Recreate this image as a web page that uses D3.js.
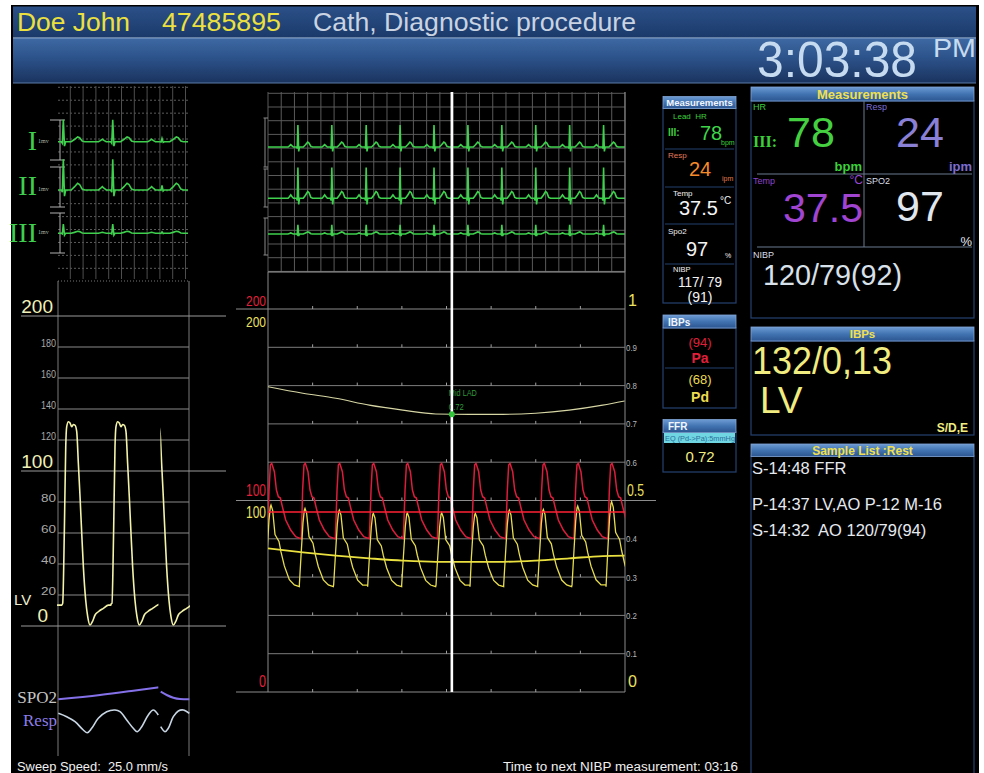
<!DOCTYPE html>
<html><head><meta charset="utf-8">
<script src="https://cdn.jsdelivr.net/npm/d3@7/dist/d3.min.js"></script>
<style>html,body{margin:0;padding:0;background:#fff;}svg{display:block;}text{white-space:pre;}</style>
</head><body>
<script>
// ================= DATA =================
const patientName = "Doe John";
const patientId = "47485895";
const procedureName = "Cath, Diagnostic procedure";
const clockTime = "3:03:38";
const clockSuffix = "PM";

const leadNames = ["I", "II", "III"];
const leadGainMv = [1.0, 1.4, 0.42];
// one ECG complex: [seconds from R peak, mV]
const ecgBeatShape = [[-0.22,0],[-0.19,0.05],[-0.16,0.11],[-0.13,0.05],[-0.10,0],[-0.03,0],[-0.015,-0.07],[0,1],[0.018,-0.2],[0.035,0],[0.12,0],[0.17,0.1],[0.22,0.22],[0.25,0.18],[0.29,0.03],[0.33,0]];
const leftEcgBeats = [0.082, 0.842, 1.60];
const leftEcgQrsScale = [1, 1, 0.15];
const midEcgBeats = [0.67, 1.43, 2.20, 2.96, 3.72, 4.48, 5.24, 6.00, 6.76, 7.52];

const lvMinorTicks = [20, 40, 60, 80, 120, 140, 160, 180];
const lvMajorTicks = [0, 100, 200];
const lvLabel = "LV";
// one LV pressure cycle: [seconds from upstroke, mmHg]
const lvBeatShape = [[0,13.5],[0.015,14.6],[0.041,62],[0.062,115.7],[0.077,128.6],[0.103,131.8],[0.128,131],[0.154,128.6],[0.179,130],[0.205,129.5],[0.231,125.4],[0.256,105],[0.282,83.4],[0.308,59.8],[0.333,38.3],[0.369,16.8],[0.4,6],[0.436,0.6],[0.472,2.8],[0.513,7.1],[0.564,9.2],[0.641,11.4],[0.718,13.5],[0.759,14.2]];
const lvBeatsOld = [0.057, 0.815];
const lvBeatsNew = [1.338];
const sweepGap = [1.545, 1.575];

const plethT = [0.005, 0.646, 1.159, 1.543, 1.58, 1.672, 1.774, 1.877, 2.02];
const plethV = [0.135, 0.35, 0.565, 0.735, 0.515, 0.35, 0.215, 0.15, 0.135];
const respT = [0.005,0.134,0.262,0.389,0.451,0.518,0.62,0.749,0.877,0.954,1.057,1.158,1.22,1.288,1.389,1.466,1.543,1.58,1.646,1.697,1.774,1.851,1.928,2.02];
const respV = [0.804,0.678,0.493,0.185,0.085,0.248,0.619,0.863,0.926,0.863,0.556,0.248,0.122,0.307,0.741,0.926,0.741,0.307,0.122,0.248,0.678,0.889,0.926,0.804];

const ffrGridTicks = [0.1, 0.2, 0.3, 0.4, 0.6, 0.7, 0.8, 0.9];
const timeTicks = [1, 2, 3, 4, 5, 6, 7];
const paBeats = [0.083, 0.836, 1.607, 2.369, 3.131, 3.892, 4.661, 5.423, 6.192, 6.953, 7.709];
const paBeatShape = [[-0.097,80],[-0.06,105.5],[-0.03,118.5],[0,119.4],[0.06,115],[0.105,105.5],[0.149,102],[0.194,101.3],[0.239,96.8],[0.314,89.8],[0.426,84.6],[0.538,81.1],[0.665,80]];
const pdBeats = [0.067, 0.829, 1.598, 2.36, 3.122, 3.892, 4.646, 5.408, 6.17, 6.94, 7.70];
const pdPeaks = [97.6, 95.9, 95.0, 93.3, 93.6, 93.6, 93.3, 95.0, 95.3, 97.1, 99.4];
const pdBeatShape = [[-0.127,55.9],[-0.09,70.7],[-0.045,88.3],[-0.015,95],[0,95.9],[0.037,93.3],[0.09,81.1],[0.134,79.4],[0.179,77.7],[0.224,72.4],[0.299,65.4],[0.411,58.5],[0.523,55.9],[0.635,55]];
const trendT = [0, 0.78, 1.52, 2.27, 3.02, 3.76, 4.51, 5.26, 6.0, 6.75, 7.5, 7.99];
const pdMeanTrend = [75.0, 72.9, 71.2, 69.8, 68.6, 68.0, 68.0, 68.0, 68.6, 69.8, 71.0, 71.2];
const ffrTrend = [0.797, 0.780, 0.767, 0.749, 0.736, 0.726, 0.725, 0.725, 0.728, 0.736, 0.749, 0.760];
const paMeanValue = 94;
const cursorTime = 4.12;
const ffrMarkerText = ["Mid LAD", "0.72"];

const miniHr = "78", miniResp = "24", miniTemp = "37.5", miniSpo2 = "97";
const miniNibp = ["117/ 79", "(91)"];
const ibpPa = ["(94)", "Pa"], ibpPd = ["(68)", "Pd"];
const ffrEq = "EQ (Pd->Pa):5mmHg";
const ffrResult = "0.72";

const bigHr = "78", bigResp = "24", bigTemp = "37.5", bigSpo2 = "97", bigNibp = "120/79(92)";
const ibpBig = ["132/0,13", "LV", "S/D,E"];
const sampleList = ["S-14:48 FFR", "P-14:37 LV,AO P-12 M-16", "S-14:32  AO 120/79(94)"];
const sweepText = "Sweep Speed:  25.0 mm/s";
const nibpTimerText = "Time to next NIBP measurement: 03:16";

// ================= DRAWING =================
const SANS = '"Liberation Sans", Arial, Helvetica, sans-serif';
const SERIF = '"Liberation Serif", "Times New Roman", serif';
const svg = d3.select("body").append("svg").attr("width", 984).attr("height", 773);
const defs = svg.append("defs");
function vgrad(id, stops) {
  const g = defs.append("linearGradient").attr("id", id).attr("x1", 0).attr("y1", 0).attr("x2", 0).attr("y2", 1);
  stops.forEach(([o, c]) => g.append("stop").attr("offset", o).attr("stop-color", c));
}
vgrad("gTop", [[0, "#2b5088"], [1, "#1b3a6a"]]);
vgrad("gBot", [[0, "#3e69a3"], [0.45, "#2c528a"], [1, "#1a335e"]]);
vgrad("gHdr", [[0, "#6d9bd3"], [0.5, "#4274b2"], [1, "#2b5590"]]);
function clip(id, x, y, w, h) {
  defs.append("clipPath").attr("id", id).append("rect").attr("x", x).attr("y", y).attr("width", w).attr("height", h);
}
function T(p, x, y, s, o = {}) {
  const t = p.append("text").attr("x", x).attr("y", y).text(s)
    .attr("font-size", o.size || 12).attr("fill", o.fill || "#fff").attr("font-family", o.family || SANS)
    .style("white-space", "pre");
  if (o.anchor) t.attr("text-anchor", o.anchor);
  if (o.weight) t.attr("font-weight", o.weight);
  if (o.len) t.attr("textLength", o.len).attr("lengthAdjust", "spacingAndGlyphs");
  return t;
}
function L(p, x1, y1, x2, y2, c, w = 1, dash) {
  const l = p.append("line").attr("x1", x1).attr("y1", y1).attr("x2", x2).attr("y2", y2).attr("stroke", c).attr("stroke-width", w);
  if (dash) l.attr("stroke-dasharray", dash);
  return l;
}
function beatsTrace(beats, shape, fn) {
  const pts = [];
  beats.forEach((b, i) => shape.forEach(([dt, v]) => pts.push([b + dt, fn ? fn(v, dt, i) : v])));
  pts.sort((a, b) => a[0] - b[0]);
  pts.unshift([-10, pts[0][1]]);
  pts.push([60, pts[pts.length - 1][1]]);
  return pts;
}

// background / screen
svg.append("rect").attr("width", 984).attr("height", 773).attr("fill", "#fff");
svg.append("rect").attr("x", 11).attr("y", 5).attr("width", 968).attr("height", 768).attr("fill", "#000");

// header bands
svg.append("rect").attr("x", 13).attr("y", 6.5).attr("width", 963).attr("height", 31).attr("fill", "url(#gTop)");
svg.append("rect").attr("x", 13).attr("y", 38).attr("width", 963).attr("height", 45).attr("fill", "url(#gBot)");
L(svg, 13, 37.8, 976, 37.8, "#86a3cb", 1.2);
L(svg, 13, 83, 976, 83, "#5a7aa8", 1);
T(svg, 17, 31, patientName, { size: 26, fill: "#ece03e", len: 113 });
T(svg, 162, 31, patientId, { size: 26, fill: "#ece03e", len: 119 });
T(svg, 313, 31, procedureName, { size: 26, fill: "#c9d3e2", len: 323 });
T(svg, 757, 77, clockTime, { size: 50, fill: "#c7dbf0", len: 160 });
T(svg, 933, 57, clockSuffix, { size: 25, fill: "#c7dbf0", len: 43 });

// ---------- LEFT ECG ----------
const xL = d3.scaleLinear().domain([0, 2]).range([58, 188]);
const gL = svg.append("g");
for (let k = 0; k <= 14; k++) L(gL, 58, 87.3 + k * 12.93, 188, 87.3 + k * 12.93, "#5c5c5c", 1, "2,2");
for (let k = 0; k <= 9; k++) L(gL, 70.3 + k * 12.8, 86, 70.3 + k * 12.8, 279, "#4e4e4e", 1);
const leftEcgBase = [141.7, 190, 233.3];
const leftBrackets = [[120, 160], [167, 207], [213, 253]];
const leftLabelY = [150, 195, 242];
const ECG_PX = 22;
clip("cLeftEcg", 58, 86, 130, 190);
leadNames.forEach((nm, i) => {
  const [a, b] = leftBrackets[i];
  L(gL, 60, a, 60, b, "#b0b0b0", 1);
  L(gL, 50, a, 65, a, "#b0b0b0", 1);
  L(gL, 50, b, 65, b, "#b0b0b0", 1);
  T(gL, 37, leftLabelY[i], nm, { size: 28, fill: "#3fcf4f", family: SERIF, anchor: "end" });
  T(gL, 38, leftEcgBase[i] + 1, "1mv", { size: 6, fill: "#a8b8a8", family: SERIF });
  const pts = beatsTrace(leftEcgBeats, ecgBeatShape, (v, dt, j) => Math.abs(dt) <= 0.02 ? v * leftEcgQrsScale[j] : v);
  const line = d3.line().x(d => xL(d[0])).y(d => leftEcgBase[i] - d[1] * leadGainMv[i] * ECG_PX);
  gL.append("path").attr("d", line(pts)).attr("fill", "none").attr("stroke", "#3fd04e").attr("stroke-width", 1.6)
    .attr("clip-path", "url(#cLeftEcg)");
});

// ---------- LEFT LV ----------
const yLV = d3.scaleLinear().domain([0, 200]).range([626, 316]);
const gV = svg.append("g");
L(gV, 58, 281, 189, 281, "#777", 1, "1,2");
L(gV, 58, 281, 58, 756, "#7a7a7a", 1);
L(gV, 189, 281, 189, 756, "#7a7a7a", 1);
lvMinorTicks.forEach(v => {
  L(gV, 58, yLV(v), 189, yLV(v), "#8a8a8a", 1);
  T(gV, 56, yLV(v) - 0.5, String(v), { size: 10, fill: "#a9a9a9", anchor: "end", len: 15 });
});
lvMajorTicks.forEach(v => {
  L(gV, 21, yLV(v), 226, yLV(v), "#9a9a9a", 1);
  T(gV, v === 0 ? 48 : 53, yLV(v) - (v === 0 ? 4 : 3), String(v), { size: 19, fill: "#f0f0b8", anchor: "end" });
});
T(gV, 14, 605, lvLabel, { size: 15, fill: "#f0f0d0" });
clip("cLvOld", 57, 280, xL(sweepGap[0]) - 57, 360);
clip("cLvNew", xL(sweepGap[1]), 280, 190 - xL(sweepGap[1]), 360);
const lvLine = d3.line().x(d => xL(d[0])).y(d => yLV(d[1])).curve(d3.curveMonotoneX);
gV.append("path").attr("d", lvLine(beatsTrace(lvBeatsOld, lvBeatShape))).attr("fill", "none")
  .attr("stroke", "#f2f2a8").attr("stroke-width", 1.6).attr("clip-path", "url(#cLvOld)");
gV.append("path").attr("d", lvLine(beatsTrace(lvBeatsNew, lvBeatShape))).attr("fill", "none")
  .attr("stroke", "#f2f2a8").attr("stroke-width", 1.6).attr("clip-path", "url(#cLvNew)");

// ---------- SPO2 / RESP ----------
const yPleth = d3.scaleLinear().domain([0, 1]).range([702, 682]);
const yResp = d3.scaleLinear().domain([0, 1]).range([735, 708]);
const gS = svg.append("g");
T(gS, 57, 703, "SPO2", { size: 17, fill: "#c4c4c4", family: SERIF, anchor: "end" });
T(gS, 57, 726, "Resp", { size: 17, fill: "#8c7de6", family: SERIF, anchor: "end" });
function segs(ts, vs) {
  const a = [], b = [];
  ts.forEach((t, i) => (t <= sweepGap[0] ? a : b).push([t, vs[i]]));
  return [a, b];
}
const plLine = d3.line().x(d => xL(d[0])).y(d => yPleth(d[1])).curve(d3.curveMonotoneX);
const rsLine = d3.line().x(d => xL(d[0])).y(d => yResp(d[1])).curve(d3.curveCatmullRom);
segs(plethT, plethV).forEach(s => gS.append("path").attr("d", plLine(s)).attr("fill", "none").attr("stroke", "#8470e8").attr("stroke-width", 2));
segs(respT, respV).forEach(s => gS.append("path").attr("d", rsLine(s)).attr("fill", "none").attr("stroke", "#c8d6e4").attr("stroke-width", 1.6));
T(svg, 17, 771, sweepText, { size: 12.5, fill: "#f0f0f0", len: 151 });
T(svg, 503, 771, nibpTimerText, { size: 12.5, fill: "#f0f0f0", len: 235 });

// ---------- MIDDLE ECG ----------
const xM = d3.scaleLinear().domain([0, 8]).range([268, 625]);
const gM = svg.append("g");
for (let k = 0; k <= 27; k++) L(gM, 268 + k * 13.22, 92, 268 + k * 13.22, 272, "#5a5a5a", 1);
for (let k = 0; k <= 13; k++) L(gM, 268, 93.3 + k * 13.7, 625, 93.3 + k * 13.7, "#5a5a5a", 1);
L(gM, 268, 272, 625, 272, "#9a9a9a", 1.2);
const midEcgBase = [147, 198.3, 234];
const midBrackets = [[118, 167], [169, 207], [218, 255]];
clip("cMidEcg", 268, 90, 357, 184);
leadNames.forEach((nm, i) => {
  const [a, b] = midBrackets[i];
  L(gM, 265, a, 265, b, "#8a8a8a", 1);
  L(gM, 263.5, a, 268, a, "#8a8a8a", 1);
  L(gM, 263.5, b, 268, b, "#8a8a8a", 1);
  const pts = beatsTrace(midEcgBeats, ecgBeatShape);
  const line = d3.line().x(d => xM(d[0])).y(d => midEcgBase[i] - d[1] * leadGainMv[i] * ECG_PX);
  gM.append("path").attr("d", line(pts)).attr("fill", "none").attr("stroke", "#3fd04e").attr("stroke-width", 1.6)
    .attr("clip-path", "url(#cMidEcg)");
});

// ---------- PRESSURE / FFR ----------
const yP = d3.scaleLinear().domain([0, 200]).range([692, 309]);
const yF = d3.scaleLinear().domain([0, 1]).range([692, 309]);
const gP = svg.append("g");
L(gP, 268, 272, 268, 692, "#8a8a8a", 1);
L(gP, 625, 92, 625, 692, "#8a8a8a", 1);
ffrGridTicks.forEach(v => {
  L(gP, 268, yF(v), 625, yF(v), "#7c7c7c", 1);
  T(gP, 626, yF(v) + 3.5, String(v), { size: 9, fill: "#b5b5b5", len: 11 });
});
L(gP, 236, yF(1), 625, yF(1), "#8c8c8c", 1);
L(gP, 236, yF(0.5), 656, yF(0.5), "#8c8c8c", 1);
L(gP, 236, yF(0), 625, yF(0), "#8c8c8c", 1);
[0, 0.1, 0.2, 0.3, 0.4, 0.5, 0.6, 0.7, 0.8, 0.9, 1].forEach(v => timeTicks.forEach(t => L(gP, xM(t), yF(v) - 3, xM(t), yF(v), "#a0a0a0", 1)));
T(gP, 246, yP(200) - 3, "200", { size: 15, fill: "#e0203a", len: 20 });
T(gP, 246, yP(200) + 18, "200", { size: 15, fill: "#ece060", len: 20 });
T(gP, 246, yP(100) - 5, "100", { size: 16, fill: "#e0203a", len: 20 });
T(gP, 246, yP(100) + 17, "100", { size: 16, fill: "#ece060", len: 20 });
T(gP, 259, yP(0) - 5, "0", { size: 16, fill: "#e0203a", len: 7 });
T(gP, 628, yF(1) - 3, "1", { size: 16, fill: "#ece060" });
T(gP, 627, yF(0.5) - 5, "0.5", { size: 16, fill: "#ece060", len: 17 });
T(gP, 628, yF(0) - 5, "0", { size: 16, fill: "#ece060" });

clip("cPress", 268, 300, 357, 392);
const pLine = d3.line().x(d => xM(d[0])).y(d => yP(d[1]));
gP.append("path").attr("d", d3.line().x(d => xM(d[0])).y(d => yF(d[1])).curve(d3.curveMonotoneX)(trendT.map((t, i) => [t, ffrTrend[i]])))
  .attr("fill", "none").attr("stroke", "#d6d6a4").attr("stroke-width", 1.1);
gP.append("path").attr("d", pLine(beatsTrace(paBeats, paBeatShape))).attr("fill", "none")
  .attr("stroke", "#dc1e3c").attr("stroke-width", 1.5).attr("clip-path", "url(#cPress)");
gP.append("path").attr("d", pLine(beatsTrace(pdBeats, pdBeatShape, (v, dt, i) => 55 + (v - 55) * (pdPeaks[i] - 55) / (95.9 - 55))))
  .attr("fill", "none").attr("stroke", "#e6dc4e").attr("stroke-width", 1.3).attr("clip-path", "url(#cPress)");
L(gP, xM(0), yP(paMeanValue), xM(8), yP(paMeanValue), "#ff2035", 1.6);
gP.append("path").attr("d", pLine.curve(d3.curveMonotoneX)(trendT.map((t, i) => [t, pdMeanTrend[i]])))
  .attr("fill", "none").attr("stroke", "#eae040").attr("stroke-width", 1.8);
const ffrAtCursor = d3.scaleLinear().domain(trendT).range(ffrTrend)(cursorTime);
T(gP, xM(cursorTime) - 3, 396, ffrMarkerText[0], { size: 9, fill: "#2f9a3a", len: 28 });
T(gP, xM(cursorTime) - 3, 410, ffrMarkerText[1], { size: 9, fill: "#2f9a3a", len: 15 });
L(gP, xM(cursorTime), 92, xM(cursorTime), 692, "#ffffff", 2.6);
gP.append("circle").attr("cx", xM(cursorTime)).attr("cy", yF(ffrAtCursor)).attr("r", 3).attr("fill", "#32c43a");

// ---------- MIDDLE MEASUREMENT COLUMN ----------
const gC = svg.append("g");
function hdrBox(p, x, y, w, h, label, o) {
  p.append("rect").attr("x", x).attr("y", y).attr("width", w).attr("height", h).attr("fill", "url(#gHdr)")
    .attr("stroke", "#7fa4d4").attr("stroke-width", 0.8);
  T(p, o.tx !== undefined ? o.tx : x + w / 2, y + h - o.dy, label, { size: o.size, fill: o.fill, weight: "bold", anchor: o.anchor || "middle" });
}
function box(p, x, y, w, h) {
  p.append("rect").attr("x", x).attr("y", y).attr("width", w).attr("height", h).attr("fill", "#000")
    .attr("stroke", "#24416f").attr("stroke-width", 1.2);
}
box(gC, 663, 108, 73, 195);
hdrBox(gC, 663, 96.5, 73, 12, "Measurements", { size: 9.5, fill: "#f2f6ff", dy: 2.5 });
[149, 187, 224, 264].forEach(y => L(gC, 665, y, 734, y, "#24416f", 1));
T(gC, 673, 119, "Lead  HR", { size: 8, fill: "#3ccf3c" });
T(gC, 668, 136, "III:", { size: 10, fill: "#3ccf3c", weight: "bold" });
T(gC, 700, 140, miniHr, { size: 20, fill: "#3fd54a" });
T(gC, 721, 145, "bpm", { size: 7, fill: "#3ccf3c" });
T(gC, 668, 158, "Resp", { size: 8, fill: "#e27a5a" });
T(gC, 689, 176, miniResp, { size: 20, fill: "#f58a2a" });
T(gC, 722, 181, "ipm", { size: 7, fill: "#e07a4a" });
T(gC, 673, 196, "Temp", { size: 8, fill: "#f0f0f0" });
T(gC, 679, 215, miniTemp, { size: 20, fill: "#f4f4f4" });
T(gC, 720, 204, "°C", { size: 10, fill: "#f0f0f0" });
T(gC, 668, 234, "Spo2", { size: 8, fill: "#f0f0f0" });
T(gC, 686, 256, miniSpo2, { size: 20, fill: "#f4f4f4" });
T(gC, 725, 258, "%", { size: 7, fill: "#f0f0f0" });
T(gC, 673, 272, "NIBP", { size: 7.5, fill: "#f0f0f0" });
T(gC, 700, 287, miniNibp[0], { size: 14, fill: "#f4f4f4", anchor: "middle", len: 44 });
T(gC, 700, 302, miniNibp[1], { size: 14, fill: "#f4f4f4", anchor: "middle" });

box(gC, 663, 328, 73, 80);
hdrBox(gC, 663, 315, 73, 13, "IBPs", { size: 10, fill: "#f2f6ff", dy: 2.5, tx: 668, anchor: "start" });
L(gC, 665, 368, 734, 368, "#24416f", 1);
T(gC, 700, 347, ibpPa[0], { size: 13, fill: "#e0203a", anchor: "middle" });
T(gC, 700, 363, ibpPa[1], { size: 14, fill: "#e0203a", anchor: "middle", weight: "bold" });
T(gC, 700, 384, ibpPd[0], { size: 13, fill: "#ecdc50", anchor: "middle" });
T(gC, 700, 402, ibpPd[1], { size: 14, fill: "#ecdc50", anchor: "middle", weight: "bold" });

box(gC, 663, 432, 73, 40);
hdrBox(gC, 663, 419.5, 73, 13, "FFR", { size: 10, fill: "#f2f6ff", dy: 2.5, tx: 668, anchor: "start" });
gC.append("rect").attr("x", 664).attr("y", 433).attr("width", 71).attr("height", 10).attr("fill", "#6fd6e2");
T(gC, 665, 441, ffrEq, { size: 7, fill: "#2a6f9c", len: 70 });
T(gC, 700, 462, ffrResult, { size: 15, fill: "#f0ee80", anchor: "middle" });

// ---------- RIGHT PANEL ----------
const gR = svg.append("g");
box(gR, 751, 101, 223, 217);
hdrBox(gR, 751, 87, 223, 14, "Measurements", { size: 13, fill: "#f0e050", dy: 2.5 });
L(gR, 864, 101, 864, 247, "#6a7a92", 1);
L(gR, 757, 174, 972, 174, "#6a7a92", 1);
L(gR, 757, 247, 972, 247, "#6a7a92", 1);
T(gR, 753, 110, "HR", { size: 9, fill: "#3ccf3c" });
T(gR, 753, 147, "III:", { size: 16, fill: "#3ccf3c", family: SERIF, weight: "bold" });
T(gR, 787, 147, bigHr, { size: 43, fill: "#44d040" });
T(gR, 862, 171, "bpm", { size: 13, fill: "#3ccf3c", weight: "bold", anchor: "end" });
T(gR, 866, 110, "Resp", { size: 9, fill: "#7c6ed2" });
T(gR, 896, 147, bigResp, { size: 43, fill: "#8a80d6" });
T(gR, 972, 171, "ipm", { size: 13, fill: "#7c6ed2", weight: "bold", anchor: "end" });
T(gR, 753, 184, "Temp", { size: 9, fill: "#8a44c8" });
T(gR, 863, 184, "°C", { size: 12, fill: "#9848d0", anchor: "end" });
T(gR, 783, 222, bigTemp, { size: 40, fill: "#a044d2", len: 80 });
T(gR, 866, 184, "SPO2", { size: 9, fill: "#d8dde6" });
T(gR, 896, 221, bigSpo2, { size: 43, fill: "#e0e6ee" });
T(gR, 972, 246, "%", { size: 13, fill: "#e0e6ee", anchor: "end" });
T(gR, 753, 258, "NIBP", { size: 9, fill: "#d8dde6" });
T(gR, 763, 285, bigNibp, { size: 29, fill: "#d8e0ea", len: 139 });

box(gR, 751, 341, 223, 94);
hdrBox(gR, 751, 327, 223, 14, "IBPs", { size: 11.5, fill: "#f0e050", dy: 3 });
T(gR, 752, 374, ibpBig[0], { size: 38, fill: "#f0ec80", len: 140 });
T(gR, 760, 413, ibpBig[1], { size: 37, fill: "#f0ec80" });
T(gR, 968, 432, ibpBig[2], { size: 12, fill: "#f0ec80", weight: "bold", anchor: "end" });

box(gR, 751, 456, 223, 320);
hdrBox(gR, 751, 444, 223, 12.5, "Sample List :Rest", { size: 12, fill: "#f0e050", dy: 1.5 });
const sampleY = [474, 510, 536];
sampleList.forEach((s, i) => T(gR, 752, sampleY[i], s, { size: 16.5, fill: "#e6eaf0" }));
</script>
</body></html>
